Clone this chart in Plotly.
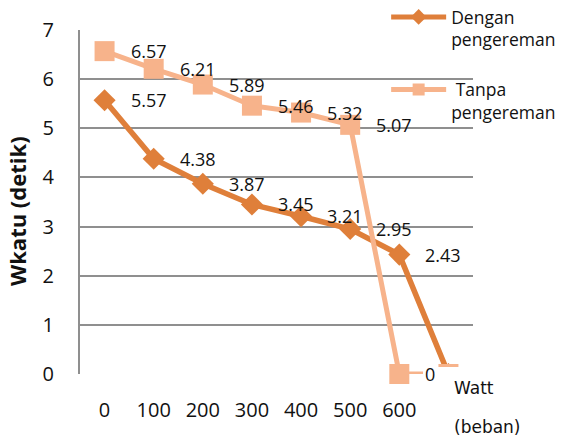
import plotly.graph_objects as go

# ---- data ----
beban = [0, 100, 200, 300, 400, 500, 600, 700]
tick_labels = ["0", "100", "200", "300", "400", "500", "600"]
dengan = [5.57, 4.38, 3.87, 3.45, 3.21, 2.95, 2.43, 0]
tanpa = [6.57, 6.21, 5.89, 5.46, 5.32, 5.07, 0, 0]
name_dengan = "Dengan<br>pengereman"
name_tanpa = " Tanpa<br>pengereman"

C_DARK = "#DF7F3A"
C_LIGHT = "#F7B38B"
GRID = "#8F8F8F"
FONT = "Open Sans"

fig = go.Figure()
fig.add_trace(go.Scatter(
    x=beban, y=dengan, name=name_dengan, mode="lines+markers",
    line=dict(color=C_DARK, width=5.5),
    marker=dict(symbol="diamond", size=17, color=C_DARK),
    cliponaxis=False, legendgroup="a",
))
fig.add_trace(go.Scatter(
    x=beban, y=tanpa, name=name_tanpa, mode="lines+markers",
    line=dict(color=C_LIGHT, width=5),
    marker=dict(symbol="square", size=20, color=C_LIGHT),
    cliponaxis=False, legendgroup="b",
))

annotations = []
# labels (points 0..600 only; the 700 point lies under the axis-title box)
for series in (dengan, tanpa):
    for xv, yv in zip(beban[:-1], series[:-1]):
        annotations.append(dict(
            x=xv, y=yv, xref="x", yref="y", text=f"{yv:g}", showarrow=False,
            xanchor="left", yanchor="middle", xshift=24,
            font=dict(family=FONT, size=18, color="#111111"),
        ))

# axis titles
annotations.append(dict(
    x=-0.160, y=0.474, xref="paper", yref="paper", text="<b>Wkatu (detik)</b>",
    textangle=-90, showarrow=False, xanchor="center", yanchor="middle",
    font=dict(family=FONT, size=22, color="#111111"),
))
annotations.append(dict(
    x=0.946, y=-0.0407, xref="paper", yref="paper", text="Watt",
    showarrow=False, xanchor="left", yanchor="middle",
    font=dict(family="DejaVu Sans", size=17, color="#111111"),
))
annotations.append(dict(
    x=0.946, y=-0.154, xref="paper", yref="paper", text="(beban)",
    showarrow=False, xanchor="left", yanchor="middle",
    font=dict(family="DejaVu Sans", size=17, color="#111111"),
))

fig.update_layout(
    width=563, height=437,
    margin=dict(l=80, r=90, t=30, b=63, autoexpand=False),
    paper_bgcolor="white", plot_bgcolor="white",
    font=dict(family=FONT, size=18, color="#111111"),
    showlegend=True,
    legend=dict(
        x=0.779, y=1.09, xanchor="left", yanchor="top",
        font=dict(family=FONT, size=17.5, color="#111111"),
        bgcolor="rgba(0,0,0,0)", itemwidth=55, tracegroupgap=24,
        valign="top", itemsizing="constant",
    ),
    shapes=[dict(
        type="rect", xref="paper", yref="paper", layer="above",
        x0=0.8728, x1=1.25, y0=0.0203, y1=-0.25,
        fillcolor="white", line=dict(width=0),
    )],
    annotations=annotations,
)
fig.update_xaxes(
    range=[-50, 750], tickmode="array", tickvals=beban[:-1], ticktext=tick_labels,
    showgrid=False, zeroline=False, showline=False,
    ticks="", ticklabelstandoff=22,
    tickfont=dict(family=FONT, size=20, color="#111111"),
)
fig.update_yaxes(
    range=[0, 7], dtick=1, showgrid=True, gridcolor=GRID, gridwidth=2,
    zeroline=False, showline=True, linecolor=GRID, linewidth=2,
    ticks="", ticklabelstandoff=20,
    tickfont=dict(family=FONT, size=20, color="#111111"),
)

fig.write_html("out.html")
